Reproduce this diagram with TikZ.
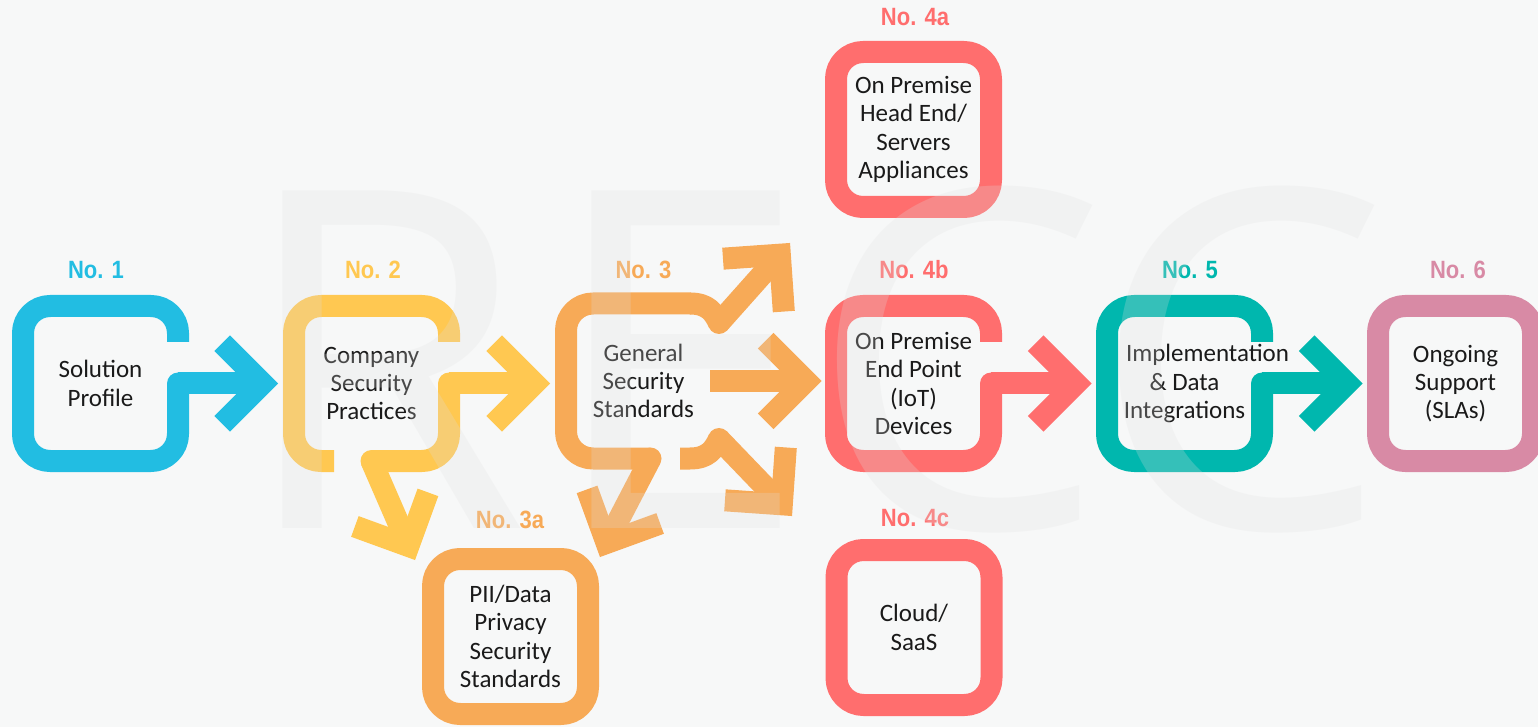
\documentclass[tikz,border=0pt]{standalone}
\usepackage{fontspec}
\setmainfont{Carlito}
\newfontfamily\labelfont[FakeStretch=0.88]{Liberation Sans}
\newfontfamily\wmfont{Open Sans}
\usetikzlibrary{calc}
\pgfdeclarelayer{bg}
\pgfsetlayers{bg,main}
\definecolor{bgc}{HTML}{F7F8F8}
\definecolor{cblue}{HTML}{22BDE2}
\definecolor{cyellow}{HTML}{FFC851}
\definecolor{corange}{HTML}{F7AA57}
\definecolor{cred}{HTML}{FF6E6E}
\definecolor{cteal}{HTML}{00B7AE}
\definecolor{cpink}{HTML}{D88AA5}
\definecolor{txt}{HTML}{1A1A1A}
\definecolor{wm}{HTML}{E0E0E0}
\tikzset{
  band/.style={line width=11pt, line cap=butt, line join=round},
  chevst/.style={line width=11pt, line cap=butt, line join=miter, miter limit=10},
  boxtext/.style={font=\fontsize{12.5}{14.15}\selectfont, align=center, text=txt, inner sep=0pt},
  lab/.style={font=\labelfont\bfseries\fontsize{12.5}{14}\selectfont, anchor=base, inner sep=0pt},
  rc/.style={rounded corners=13.5pt}
}
\newcommand\mychev[3]{\draw[chevst,#3] ($(#1)+(#2+180:15.5)+(#2+225:57)$) -- ($(#1)+(#2+180:15.5)$) -- ($(#1)+(#2+180:15.5)+(#2+135:57)$);}
\newcommand\jointdot[2]{\fill[#2] (#1) circle[radius=11];}
\begin{document}
\begin{tikzpicture}[x=0.5pt,y=-0.5pt]
\begin{pgfonlayer}{bg}
\fill[bgc] (0,0) rectangle (1538,727);
\end{pgfonlayer}
\useasboundingbox (0,0) rectangle (1538,727);

% box nodes (text)
\node[boxtext] (b1) at (100.5,383.5) {Solution\\Profile};
\node[boxtext] (b2) at (371.5,383.5) {Company\\Security\\Practices};
\node[boxtext] (b3) at (643.5,381) {General\\Security\\Standards};
\node[boxtext] (b3a) at (510.5,636.5) {PII/Data\\Privacy\\Security\\Standards};
\node[boxtext] (b4a) at (913.5,129.5) {On Premise\\Head End/\\Servers\\Appliances};
\node[boxtext] (b4b) at (913.5,383.5) {On Premise\\End Point\\(IoT)\\Devices};
\node[boxtext] (b4c) at (914,627.5) {Cloud/\\SaaS};
\node[boxtext] (b5) at (1184.5,383.5) {\hspace*{23pt}Implementation\\\& Data\\Integrations};
\node[boxtext] (b6) at (1455.5,383.5) {Ongoing\\Support\\(SLAs)};

% labels
\node[lab,text=cblue] (l1) at (96,279) {No. 1};
\node[lab,text=cyellow] (l2) at (373,279) {No. 2};
\node[lab,text=corange] (l3) at (643.5,279) {No. 3};
\node[lab,text=corange] (l3a) at (510,528) {No. 3a};
\node[lab,text=cred] (l4a) at (915,26) {No. 4a};
\node[lab,text=cred] (l4b) at (914,279) {No. 4b};
\node[lab,text=cred] (l4c) at (915,526) {No. 4c};
\node[lab,text=cteal] (l5) at (1190,279) {No. 5};
\node[lab,text=cpink] (l6) at (1458,279) {No. 6};

% arrow tips and vertices
\coordinate (t12) at ($(b1 -| b2)+(-93.5,0)$);
\coordinate (t23) at ($(b2 -| b3)+(-93.5,0)$);
\coordinate (t34) at ($(b3 -| b4b)+(-92,0)$);
\coordinate (t45) at ($(b4b -| b5)+(-93,0)$);
\coordinate (t56) at ($(b5 -| b6)+(-93,0)$);
\coordinate (t23a) at ($(b3a)+(-95.5,-76.5)$);
\coordinate (t33a) at ($(b3a)+(89.5,-79.5)$);
\coordinate (t34a) at ($(b4a)+(-123.5,113.5)$);
\coordinate (t34c) at ($(b4c)+(-122,-111.5)$);
\coordinate (v12) at ($(t12)+(180:15.5)$);
\coordinate (v23) at ($(t23)+(180:15.5)$);
\coordinate (v34) at ($(t34)+(180:15.5)$);
\coordinate (v45) at ($(t45)+(180:15.5)$);
\coordinate (v56) at ($(t56)+(180:15.5)$);
\coordinate (v23a) at ($(t23a)+(245:15.5)$);
\coordinate (v33a) at ($(t33a)+(295:15.5)$);
\coordinate (v34a) at ($(t34a)+(131:15.5)$);
\coordinate (v34c) at ($(t34c)+(229:15.5)$);

\begin{pgfonlayer}{bg}
% Box 1
\begin{scope}[shift={(b1.center)}]
  \draw[band,cblue,rc] (77.5,-41.5) -- (77.5,-77.5) -- (-77.5,-77.5) -- (-77.5,77.5) -- (77.5,77.5) -- (77.5,0) coordinate (j1);
\end{scope}
\jointdot{j1}{cblue}
\draw[band,cblue] (j1) -- (v12);
\mychev{t12}{0}{cblue}

% Box 2
\begin{scope}[shift={(b2.center)}]
  \draw[band,cyellow,rc] (77.5,-41.5) -- (77.5,-77.5) -- (-77.5,-77.5) -- (-77.5,77.5) -- (-37.5,77.5);
  \draw[band,cyellow,rc] (77.5,0) coordinate (j2) -- (77.5,77.5) -- (0,77.5) coordinate (j2d);
\end{scope}
\jointdot{j2}{cyellow}
\jointdot{j2d}{cyellow}
\draw[band,cyellow] (j2) -- (v23);
\draw[band,cyellow] (j2d) -- (v23a);
\mychev{t23}{0}{cyellow}
\mychev{t23a}{65}{cyellow}

% Box 3
\begin{scope}[shift={(b3.center)}]
  \draw[band,corange] (75.5,-58) coordinate (j3u) .. controls (70.5,-68.5) and (64.5,-77.5) .. (46.5,-77.5);
  \draw[band,corange,rc] (47.5,-77.5) -- (-77.5,-77.5) -- (-77.5,77.5) -- (7,77.5) coordinate (j3d);
  \draw[band,corange] (36.5,77.5) -- (46.5,77.5) .. controls (64.5,77.5) and (70.5,68.5) .. (75.5,58) coordinate (j3r);
  \coordinate (s3) at (66.5,0);
\end{scope}
\jointdot{j3u}{corange}
\jointdot{j3d}{corange}
\jointdot{j3r}{corange}
\draw[band,corange] (j3u) -- (v34a);
\draw[band,corange] (j3d) -- (v33a);
\draw[band,corange] (j3r) -- (v34c);
\draw[band,corange] (s3) -- (v34);
\mychev{t34a}{-49}{corange}
\mychev{t34}{0}{corange}
\mychev{t34c}{49}{corange}
\mychev{t33a}{115}{corange}

% Box 3a, 4a, 4c, 6 (closed)
\begin{scope}[shift={(b3a.center)}]
  \draw[band,corange,rc] (-77.5,-77.5) rectangle (77.5,77.5);
\end{scope}
\begin{scope}[shift={(b4a.center)}]
  \draw[band,cred,rc] (-77.5,-77.5) rectangle (77.5,77.5);
\end{scope}
\begin{scope}[shift={(b4c.center)}]
  \draw[band,cred,rc] (-77.5,-77.5) rectangle (77.5,77.5);
\end{scope}
\begin{scope}[shift={(b6.center)}]
  \draw[band,cpink,rc] (-77.5,-77.5) rectangle (77.5,77.5);
\end{scope}

% Box 4b
\begin{scope}[shift={(b4b.center)}]
  \draw[band,cred,rc] (77.5,-41.5) -- (77.5,-77.5) -- (-77.5,-77.5) -- (-77.5,77.5) -- (77.5,77.5) -- (77.5,0) coordinate (j4);
\end{scope}
\jointdot{j4}{cred}
\draw[band,cred] (j4) -- (v45);
\mychev{t45}{0}{cred}

% Box 5
\begin{scope}[shift={(b5.center)}]
  \draw[band,cteal,rc] (77.5,-41.5) -- (77.5,-77.5) -- (-77.5,-77.5) -- (-77.5,77.5) -- (77.5,77.5) -- (77.5,0) coordinate (j5);
\end{scope}
\jointdot{j5}{cteal}
\draw[band,cteal] (j5) -- (v56);
\mychev{t56}{0}{cteal}
\end{pgfonlayer}

% watermark
\node[anchor=base west, inner sep=0pt, font=\wmfont\fontsize{236.5}{240}\selectfont, text=wm, text opacity=0.24] (wmk) at (236,528) {R\kern8.5pt EC\kern-8.5pt C};
\end{tikzpicture}
\end{document}
